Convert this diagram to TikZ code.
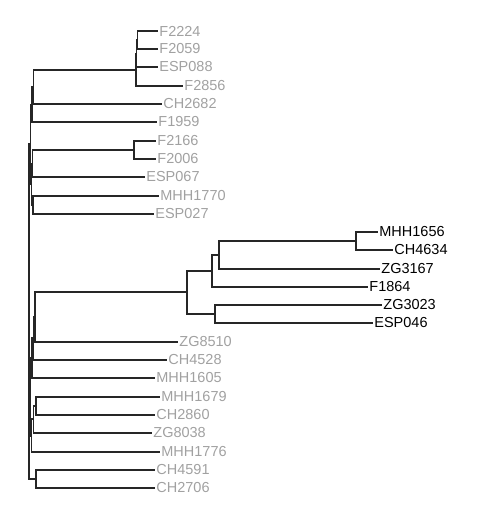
\documentclass[tikz,border=0pt]{standalone}
\usepackage{fontspec}
\setmainfont{Liberation Sans}
\definecolor{dimtip}{gray}{0.63}
\begin{document}
\begin{tikzpicture}[
        x=1pt, y=-1pt,
        branch/.style={draw, line width=1.2pt, black!85},
        tip/.style={anchor=west, inner sep=1.2pt, text=dimtip, font=\fontsize{14.5}{16}\selectfont},
        hit/.style={tip, text=black}
    ]
    \useasboundingbox (0,0) rectangle (493,523);
    % internal nodes
    \coordinate (t1) at (137.5,40);
    \coordinate (t2) at (136.5,54);
    \coordinate (t3) at (136,70);
    \coordinate (t4) at (33.5,87);
    \coordinate (t5) at (32,105);
    \coordinate (u1) at (134,150);
    \coordinate (u2) at (32.5,164);
    \coordinate (u3) at (33,205);
    \coordinate (u4) at (31.5,184);
    \coordinate (a) at (30.5,144);
    \coordinate (b1) at (356,241);
    \coordinate (b2) at (219,255);
    \coordinate (b3) at (212,271);
    \coordinate (b4) at (215,314);
    \coordinate (b5) at (187,292);
    \coordinate (c1) at (35,317);
    \coordinate (c2) at (33.5,338);
    \coordinate (c3) at (32,358);
    \coordinate (d1) at (36,406);
    \coordinate (d2) at (33.5,419);
    \coordinate (d3) at (31.5,436);
    \coordinate (e1) at (30.5,397);
    \coordinate (f) at (36,479);
    \coordinate (root) at (29,311);
    % tips
    \node[tip] (F2224) at (158,31) {F2224};
    \node[tip] (F2059) at (158,49) {F2059};
    \node[tip] (ESP088) at (158,67) {ESP088};
    \node[tip] (F2856) at (183,86) {F2856};
    \node[tip] (CH2682) at (162,104) {CH2682};
    \node[tip] (F1959) at (157,122) {F1959};
    \node[tip] (F2166) at (156,141) {F2166};
    \node[tip] (F2006) at (156,159) {F2006};
    \node[tip] (ESP067) at (145,177) {ESP067};
    \node[tip] (MHH1770) at (159,196) {MHH1770};
    \node[tip] (ESP027) at (154,214) {ESP027};
    \node[hit] (MHH1656) at (378,232) {MHH1656};
    \node[hit] (CH4634) at (393,250) {CH4634};
    \node[hit] (ZG3167) at (380,269) {ZG3167};
    \node[hit] (F1864) at (368,287) {F1864};
    \node[hit] (ZG3023) at (382,305) {ZG3023};
    \node[hit] (ESP046) at (373,323) {ESP046};
    \node[tip] (ZG8510) at (178,342) {ZG8510};
    \node[tip] (CH4528) at (167,360) {CH4528};
    \node[tip] (MHH1605) at (155,378) {MHH1605};
    \node[tip] (MHH1679) at (160,397) {MHH1679};
    \node[tip] (CH2860) at (155,415) {CH2860};
    \node[tip] (ZG8038) at (152,433) {ZG8038};
    \node[tip] (MHH1776) at (160,452) {MHH1776};
    \node[tip] (CH4591) at (155,470) {CH4591};
    \node[tip] (CH2706) at (155,488) {CH2706};
    % branches to tips
    \foreach \p/\c in {t1/F2224, t1/F2059, t2/ESP088, t3/F2856, t4/CH2682,
            t5/F1959, u1/F2166, u1/F2006, u2/ESP067, u3/MHH1770, u3/ESP027,
            b1/MHH1656, b1/CH4634, b2/ZG3167, b3/F1864, b4/ZG3023, b4/ESP046,
            c1/ZG8510, c2/CH4528, c3/MHH1605, d1/MHH1679, d1/CH2860,
            d2/ZG8038, d3/MHH1776, f/CH4591, f/CH2706}
        \draw[branch] (\p) |- (\c.west);
    % inner branches
    \foreach \p/\c in {t2/t1, t3/t2, t4/t3, t5/t4, a/t5, u2/u1, u4/u2, u4/u3,
            a/u4, b2/b1, b3/b2, b5/b3, b5/b4, c1/b5, c2/c1, c3/c2,
            d2/d1, d3/d2, e1/c3, e1/d3, root/a, root/e1, root/f}
        \draw[branch] (\p) |- (\c);
\end{tikzpicture}
\end{document}
